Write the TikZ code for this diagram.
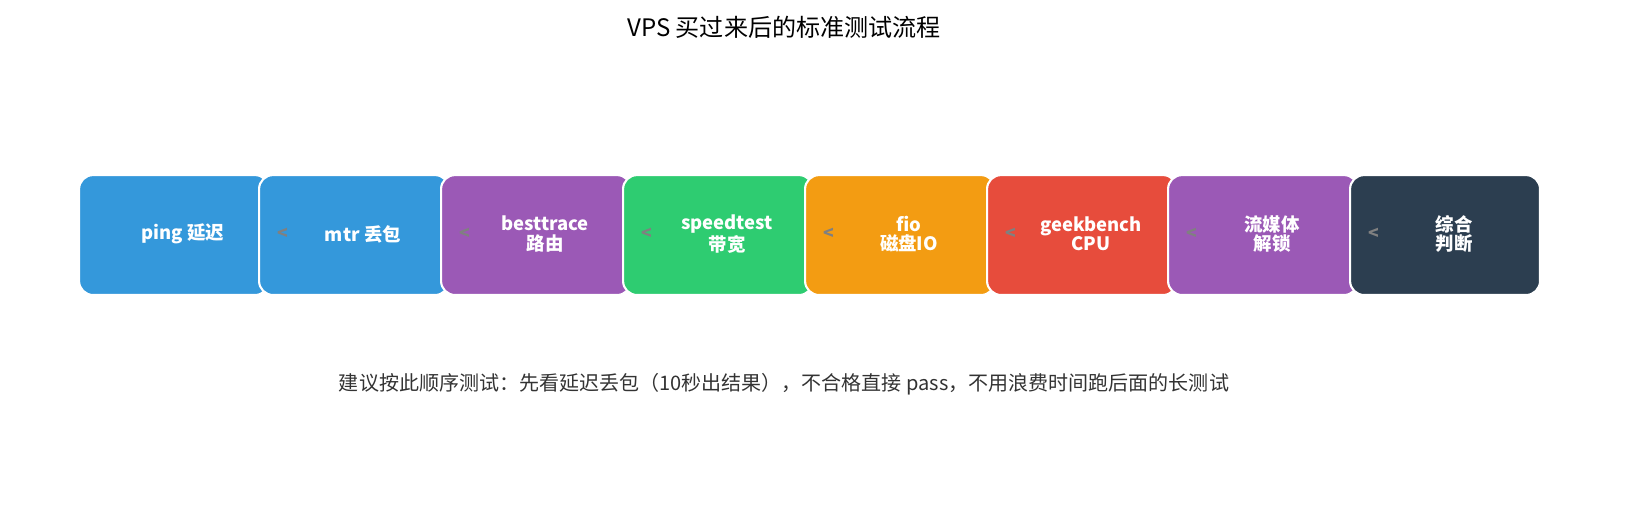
\documentclass[tikz,border=0pt]{standalone}
\usepackage{fontspec}
\setmainfont{Noto Sans CJK SC}
\usetikzlibrary{positioning}
\definecolor{cblue}{HTML}{3498DB}
\definecolor{cpurple}{HTML}{9B59B6}
\definecolor{cgreen}{HTML}{2ECC71}
\definecolor{corange}{HTML}{F39C12}
\definecolor{cred}{HTML}{E74C3C}
\definecolor{cdark}{HTML}{2C3E50}
\begin{document}
\begin{tikzpicture}[
    x=0.02cm, y=-0.02cm,
    stage/.style={rectangle, draw=white, line width=1.2pt, rounded corners=8pt, minimum width=3.8cm, minimum height=2.4cm, anchor=north west},
    stagetext/.style={text=white, font=\fontsize{10.5}{11}\selectfont\bfseries, align=center},
    sep/.style={text=gray, font=\fontsize{10}{10}\selectfont\bfseries}
]
    \useasboundingbox (0,0) rectangle (1635,510);
    % Title
    \node (title) at (784,27) {\fontsize{13.7}{15}\selectfont VPS 买过来后的标准测试流程};

    % Stages
    \foreach \x/\c/\t/\n [count=\i] in {
        78/cblue/{ping 延迟}/s1,
        258/cblue/{mtr 丢包}/s2,
        440/cpurple/{besttrace\\路由}/s3,
        622/cgreen/{speedtest\\带宽}/s4,
        804/corange/{fio\\磁盘IO}/s5,
        986/cred/{geekbench\\CPU}/s6,
        1167/cpurple/{流媒体\\解锁}/s7,
        1349/cdark/{综合\\判断}/s8} {
        \node [stage, fill=\c] (\n) at (\x,174) {};
        \node [stagetext] (\n t) at (\x+105,234) {\t};
        \ifnum\i>1 \node [sep] (\n a) at (\x+25,234) {<}; \fi
    }
    \fill [white] (1554,160) rectangle (1635,310);

    % Note
    \node (note) at (784,384) {\fontsize{11.4}{13}\selectfont\color{black!80} 建议按此顺序测试：先看延迟丢包（10秒出结果），不合格直接 pass，不用浪费时间跑后面的长测试};
\end{tikzpicture}
\end{document}
